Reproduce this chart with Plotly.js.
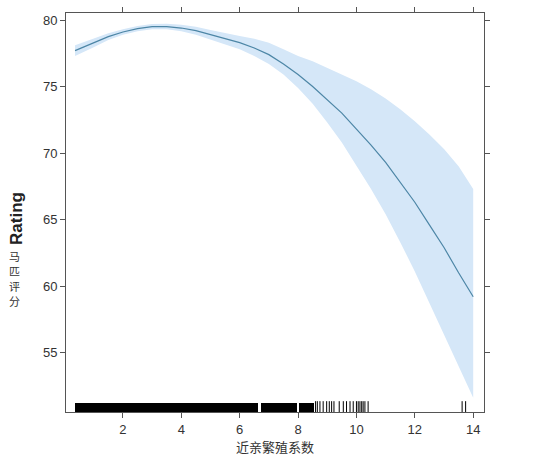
<!DOCTYPE html>
<html>
<head>
<meta charset="utf-8">
<script src="https://cdn.plot.ly/plotly-3.0.1.min.js"></script>
<style>
html,body{margin:0;padding:0;background:#fff;}
#chart{width:550px;height:468px;}
</style>
</head>
<body>
<div id="chart"></div>
<script>
// Fitted effect curve and confidence band
var xFit = [0.36, 1.0, 1.5, 2.0, 2.5, 3.0, 3.5, 4.0, 4.5, 5.0, 5.5, 6.0, 6.5, 7.0, 7.5, 8.0, 8.5, 9.0, 9.5, 10.0, 10.5, 11.0, 11.5, 12.0, 12.5, 13.0, 13.5, 14.0];
var fitValues = [77.7, 78.3, 78.75, 79.1, 79.35, 79.5, 79.5, 79.4, 79.2, 78.9, 78.6, 78.3, 77.9, 77.4, 76.7, 75.9, 75.0, 74.0, 73.0, 71.8, 70.6, 69.3, 67.8, 66.3, 64.6, 62.9, 61.0, 59.2];
var upperValues = [78.1, 78.6, 79.0, 79.3, 79.55, 79.7, 79.72, 79.65, 79.5, 79.25, 79.0, 78.8, 78.6, 78.3, 77.8, 77.3, 76.9, 76.4, 75.9, 75.4, 74.8, 74.1, 73.3, 72.4, 71.4, 70.3, 69.0, 67.3];
var lowerValues = [77.3, 77.95, 78.5, 78.9, 79.15, 79.3, 79.3, 79.15, 78.9, 78.55, 78.15, 77.8, 77.3, 76.7, 75.9, 74.9, 73.7, 72.3, 70.8, 69.1, 67.3, 65.4, 63.3, 61.1, 58.8, 56.4, 54.0, 51.6];

// Rug of observed inbreeding coefficients: dense stretches and single observations
var rugDenseStart = [0.36, 6.72, 8.02];
var rugDenseEnd = [6.63, 7.95, 8.55];
var rugSingles = [8.6, 8.66, 8.75, 8.86, 8.98, 9.07, 9.15, 9.23, 9.41, 9.55, 9.66, 9.78, 9.89, 10.0, 10.06, 10.12, 10.18, 10.23, 10.29, 10.40, 13.62, 13.74];

// Axis ticks
var xTicks = [2, 4, 6, 8, 10, 12, 14];
var yTicks = [55, 60, 65, 70, 75, 80];

var xTitle = "近亲繁殖系数";
var yTitleLatin = "Rating";
var yTitleCJK = "马匹评分";

var yMin = 50.53, yMax = 80.53;
var rugBase = yMin, rugHeight = 0.68;

var bandX = xFit.concat(xFit.slice().reverse());
var bandY = upperValues.concat(lowerValues.slice().reverse());

var rugCenters = rugDenseStart.map(function(s, i){ return (s + rugDenseEnd[i]) / 2; });
var rugWidths = rugDenseStart.map(function(s, i){ return rugDenseEnd[i] - s; });

var traces = [
  {
    x: bandX, y: bandY, type: 'scatter', mode: 'lines',
    fill: 'toself', fillcolor: '#d5e7f8',
    line: {width: 0, color: 'rgba(0,0,0,0)'},
    hoverinfo: 'skip', showlegend: false
  },
  {
    x: xFit, y: fitValues, type: 'scatter', mode: 'lines',
    line: {color: '#4d86a6', width: 1.2},
    hoverinfo: 'skip', showlegend: false
  },
  {
    x: rugCenters, y: rugCenters.map(function(){ return rugHeight; }),
    base: rugCenters.map(function(){ return rugBase; }),
    width: rugWidths, type: 'bar',
    marker: {color: '#000000', line: {width: 0}},
    hoverinfo: 'skip', showlegend: false
  },
  {
    x: rugSingles, y: rugSingles.map(function(){ return rugBase + rugHeight / 2; }),
    type: 'scatter', mode: 'markers',
    marker: {symbol: 'line-ns-open', size: 9, color: '#000000', line: {color: '#000000', width: 1}},
    hoverinfo: 'skip', showlegend: false
  }
];

var axisCommon = {
  showgrid: false, zeroline: false,
  showline: true, linecolor: '#555555', linewidth: 1,
  mirror: 'ticks', ticks: 'outside', ticklen: 5, tickwidth: 1, tickcolor: '#555555',
  tickfont: {family: 'Liberation Sans, Arial, sans-serif', size: 13, color: '#333333'}
};

var cjkAnnotations = yTitleCJK.split('').map(function(ch, i){
  return {
    xref: 'paper', yref: 'paper', x: -0.124, y: 0.392 - i * 0.038,
    text: ch, showarrow: false, xanchor: 'center', yanchor: 'middle',
    borderpad: 0,
    font: {family: 'Noto Sans CJK SC, sans-serif', size: 11, color: '#333333'}
  };
});

var layout = {
  width: 550, height: 468,
  margin: {l: 66, r: 66, t: 13, b: 56, pad: 0},
  paper_bgcolor: '#ffffff', plot_bgcolor: '#ffffff',
  showlegend: false,
  bargap: 0,
  xaxis: Object.assign({}, axisCommon, {
    range: [0.05, 14.37], tickmode: 'array', tickvals: xTicks, ticktext: xTicks.map(String),
    title: {text: xTitle, standoff: 6, font: {family: 'Noto Sans CJK SC, sans-serif', size: 13, color: '#333333'}}
  }),
  yaxis: Object.assign({}, axisCommon, {
    range: [yMin, yMax], tickmode: 'array', tickvals: yTicks, ticktext: yTicks.map(String)
  }),
  annotations: [
    {
      xref: 'paper', yref: 'paper', x: -0.12, y: 0.486,
      text: '<b>' + yTitleLatin + '</b>', textangle: -90, showarrow: false,
      xanchor: 'center', yanchor: 'middle',
      font: {family: 'Liberation Sans, Arial, sans-serif', size: 17, color: '#222222'}
    }
  ].concat(cjkAnnotations)
};

Plotly.newPlot('chart', traces, layout, {displayModeBar: false, staticPlot: true});
</script>
</body>
</html>
